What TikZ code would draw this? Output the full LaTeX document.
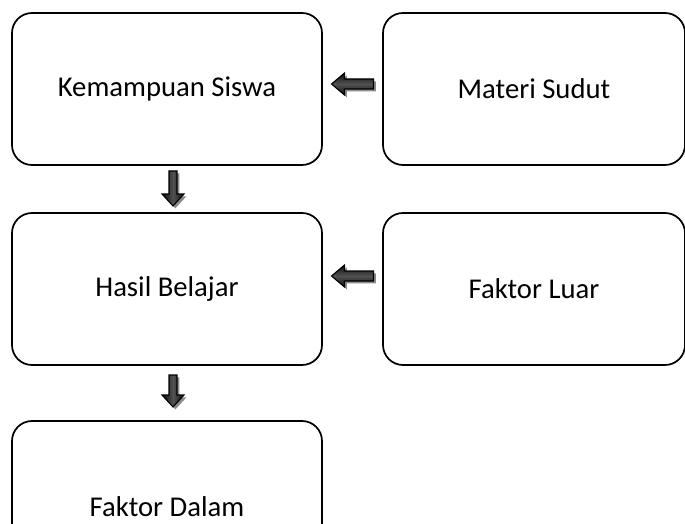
\documentclass[tikz,border=0pt]{standalone}
\usepackage{fontspec}
\setmainfont{Carlito}
\usetikzlibrary{shadows,calc}
\tikzset{
  box/.style={draw=black, line width=1.3pt, rounded corners=15pt, fill=white,
    font=\fontsize{21.5}{25}\selectfont, inner sep=0pt},
  lbox/.style={box, minimum width=232.5pt, minimum height=114pt},
  rbox/.style={box, minimum width=226.5pt, minimum height=114pt},
  blockarrow/.style={draw=black, line width=0.8pt, line join=miter,
    drop shadow={shadow xshift=1.8pt, shadow yshift=-1.8pt, fill=black!45, opacity=1}},
  harrow/.style={blockarrow, top color=black!95, bottom color=black!95, middle color=black!68},
  varrow/.style={blockarrow, left color=black!95, right color=black!95, middle color=black!68},
}
\begin{document}
\begin{tikzpicture}[x=0.75pt, y=-0.75pt]
\useasboundingbox (0,0) rectangle (685,524);
\begin{scope}
\clip (0,0) rectangle (685,524);
\node[lbox] (kem) at (167,89) {Kemampuan Siswa};
\node[rbox] (mat) at (534,89) {Materi Sudut};
\node[lbox] (has) at (167,289) {Hasil Belajar};
\node[rbox] (luar) at (534,289) {Faktor Luar};
\node[box, minimum width=232.5pt, minimum height=129pt] (dal) at (167,507) {Faktor Dalam};
\end{scope}
\coordinate (c1) at ($(kem.east)!0.5!(mat.west)+(0,-5)$);
\coordinate (c2) at ($(has.east)!0.5!(luar.west)+(0,-13)$);
\coordinate (c3) at ($(kem.south)!0.5!(has.north)+(6,-1)$);
\coordinate (c4) at ($(has.south)!0.5!(dal.north)+(6,-3)$);
% left arrows (tail on the right, tip on the left)
\path[harrow] ($(c1)+(21,-5)$) -- ++(-29,0) -- ++(0,-6) -- ++(-13,11) -- ++(13,11) -- ++(0,-6) -- ++(29,0) -- cycle;
\path[harrow] ($(c2)+(21,-5)$) -- ++(-29,0) -- ++(0,-6) -- ++(-13,11) -- ++(13,11) -- ++(0,-6) -- ++(29,0) -- cycle;
% down arrows
\path[varrow] ($(c3)+(-4,-17)$) -- ++(0,23) -- ++(-7,0) -- ++(11,12) -- ++(11,-12) -- ++(-7,0) -- ++(0,-23) -- cycle;
\path[varrow] ($(c4)+(-4,-15)$) -- ++(0,20) -- ++(-7,0) -- ++(11,12) -- ++(11,-12) -- ++(-7,0) -- ++(0,-20) -- cycle;
\end{tikzpicture}
\end{document}
